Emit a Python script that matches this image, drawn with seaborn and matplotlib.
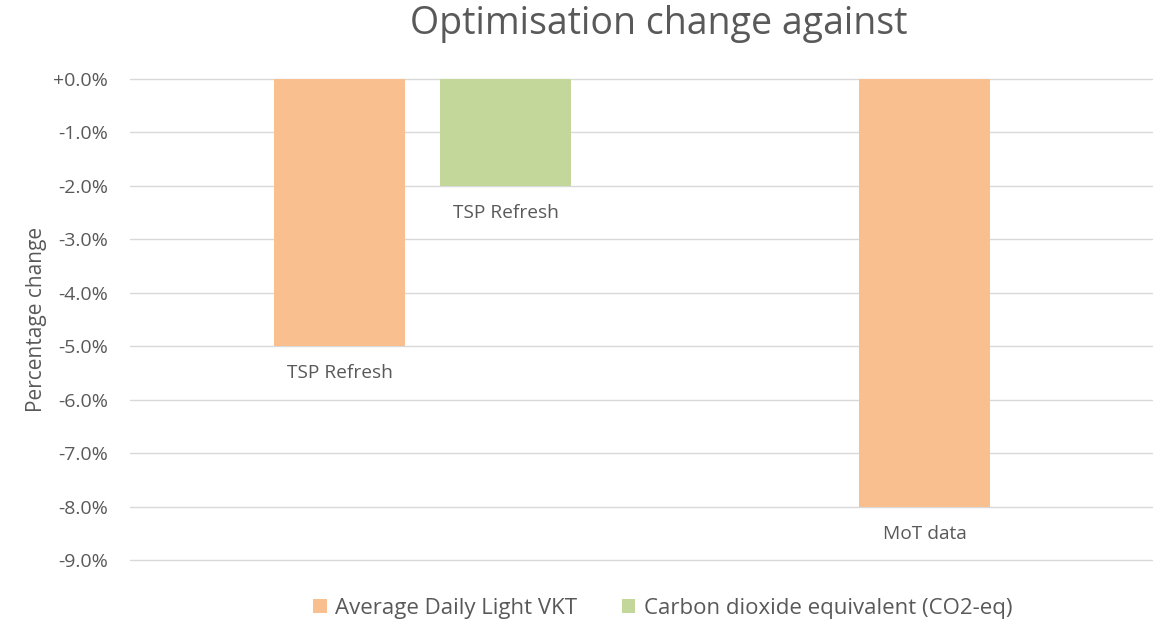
import pandas as pd
import seaborn as sns
import matplotlib.pyplot as plt
import numpy as np
from matplotlib.ticker import FuncFormatter

# data
categories = ["TSP Refresh", "MoT data"]
series_names = ["Average Daily Light VKT", "Carbon dioxide equivalent (CO2-eq)"]
vkt_change = [-5.0, -8.0]
co2_change = [-2.0, np.nan]
y_ticks = [0, -1, -2, -3, -4, -5, -6, -7, -8, -9]

df = pd.DataFrame({
    "Source": categories * 2,
    "Measure": [series_names[0]] * 2 + [series_names[1]] * 2,
    "Change": vkt_change + co2_change,
})

sns.set_theme(style="white")
plt.rcParams['font.family'] = ['Open Sans', 'DejaVu Sans']
grey = "#595959"
palette = {series_names[0]: "#F9BF8F", series_names[1]: "#C4D79B"}

fig = plt.figure(figsize=(11.55, 6.25), dpi=100)
ax = fig.add_axes([0.1126, 0.104, 0.8845, 0.7696])

sns.barplot(data=df, x="Source", y="Change", hue="Measure", palette=palette,
            width=0.568, gap=0.208, saturation=1, linewidth=0, edgecolor="none",
            ax=ax, legend=True)

ax.set_ylim(-9, 0)
ax.set_xlim(-0.5, 1.246)
ax.set_yticks(y_ticks)
ax.yaxis.set_major_formatter(FuncFormatter(lambda v, p: f"{v:+.1f}%" if v != 0 else "+0.0%"))
ax.yaxis.grid(True, color="#d9d9d9", linewidth=1)
for gl in ax.get_ygridlines():
    gl.set_clip_on(False)
ax.set_axisbelow(True)
ax.tick_params(axis="y", length=0, pad=16, labelsize=14, labelcolor=grey)
ax.set_xticks([])
ax.set_xlabel("")
ax.set_ylabel("Percentage change", fontsize=15, color=grey, labelpad=4)
for s in ax.spines.values():
    s.set_visible(False)

# category label under each bar
for cont, name in zip(ax.containers, series_names):
    for bar, cat in zip(cont, categories):
        h = bar.get_height()
        if np.isnan(h):
            continue
        ax.annotate(cat, (bar.get_x() + bar.get_width() / 2, h),
                    xytext=(0, -27), textcoords="offset pixels",
                    ha="center", va="center", fontsize=13.8, color=grey)

fig.text(0.57, 0.962, "Optimisation change against", ha="center", va="center",
         fontsize=27, color=grey)

handles, labels = ax.get_legend_handles_labels()
ax.get_legend().remove()
fig.legend(handles, labels, loc="center", bbox_to_anchor=(0.574, 0.027), ncol=2,
           frameon=False, fontsize=16, labelcolor=grey, handlelength=0.6,
           handleheight=0.6, handletextpad=0.4, columnspacing=2.0)

fig.savefig("out.png", dpi=100)
